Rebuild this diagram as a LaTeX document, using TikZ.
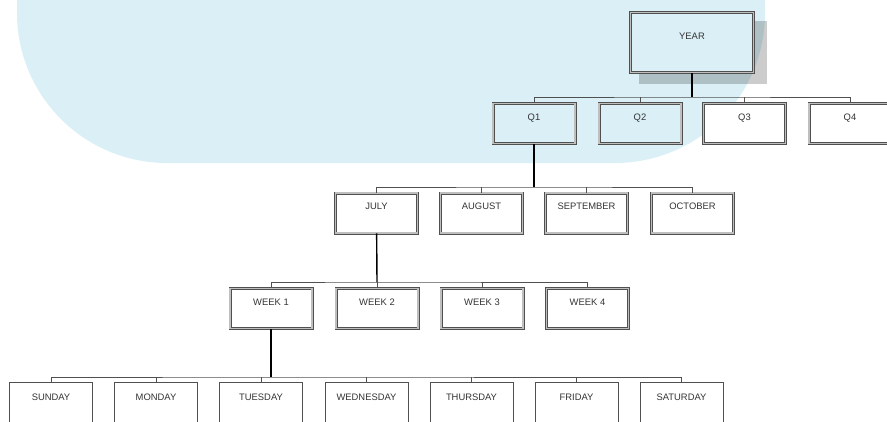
\documentclass[tikz,border=0pt]{standalone}
\usepackage{fontspec}
\setmainfont{Liberation Sans}
\definecolor{sky}{RGB}{218,240,246}
\definecolor{frame}{RGB}{80,80,80}
\definecolor{ink}{RGB}{51,51,51}
\begin{document}
\begin{tikzpicture}[x=1pt,y=-1pt,
  dbox/.style={rectangle, draw=frame, line width=0.7pt, double=black!25, double distance=1.6pt, inner sep=0pt, minimum width=82, text height=16.9pt, text depth=23.1pt, text=ink, font=\fontsize{9.4}{11}\selectfont},
  sbox/.style={rectangle, draw=frame, line width=0.9pt, inner sep=0pt, minimum width=83, text height=18.4pt, text depth=24pt, text=ink, font=\fontsize{9.4}{11}\selectfont},
  bus/.style={draw=frame, line width=0.7pt},
  drop/.style={draw=black, line width=1.4pt}]
\useasboundingbox (0,0) rectangle (887,421);
\clip (0,0) rectangle (887,421);
\fill[sky, rounded corners=150] (17,-200) rectangle (765,163);
\fill[black, opacity=0.2] (639,21) rectangle (767,84);
\node[dbox, fill=sky, minimum width=123, text height=26.9pt, text depth=33.1pt] (yr0) at (692,42.5){YEAR};
\node[dbox] (q0) at (534,123.5){Q1};
\node[dbox] (q1) at (640,123.5){Q2};
\node[dbox, fill=white] (q2) at (744.5,123.5){Q3};
\node[dbox, fill=white] (q3) at (850,123.5){Q4};
\node[dbox] (m0) at (376.5,213){JULY};
\node[dbox] (m1) at (481.5,213){AUGUST};
\node[dbox] (m2) at (586.5,213){SEPTEMBER};
\node[dbox] (m3) at (692.5,213){OCTOBER};
\node[dbox] (w0) at (271,308.5){WEEK 1};
\node[dbox] (w1) at (377,308.5){WEEK 2};
\node[dbox] (w2) at (482,308.5){WEEK 3};
\node[dbox] (w3) at (587.5,308.5){WEEK 4};
\node[sbox] (d0) at (51,403.5){SUNDAY};
\node[sbox] (d1) at (156,403.5){MONDAY};
\node[sbox] (d2) at (261,403.5){TUESDAY};
\node[sbox] (d3) at (366.5,403.5){WEDNESDAY};
\node[sbox] (d4) at (471.5,403.5){THURSDAY};
\node[sbox] (d5) at (576.5,403.5){FRIDAY};
\node[sbox] (d6) at (681.5,403.5){SATURDAY};
\coordinate (b0) at (692,97);
\coordinate (b1) at (534,187);
\coordinate (b2) at (377,282);
\coordinate (b3) at (271,377);
\draw[bus] (q0.north) |- (b0) -| (q3.north);
\draw[bus] (q1.north) -- (q1.north |- b0);
\draw[bus] (q2.north) -- (q2.north |- b0);
\draw[bus] (m0.north) |- (b1) -| (m3.north);
\draw[bus] (m1.north) -- (m1.north |- b1);
\draw[bus] (m2.north) -- (m2.north |- b1);
\draw[bus] (w0.north) |- (b2) -| (w3.north);
\draw[bus] (w1.north) -- (w1.north |- b2);
\draw[bus] (w2.north) -- (w2.north |- b2);
\draw[bus] (d0.north) |- (b3) -| (d6.north);
\draw[bus] (d1.north) -- (d1.north |- b3);
\draw[bus] (d2.north) -- (d2.north |- b3);
\draw[bus] (d3.north) -- (d3.north |- b3);
\draw[bus] (d4.north) -- (d4.north |- b3);
\draw[bus] (d5.north) -- (d5.north |- b3);
\draw[drop] (yr0) -- (b0);
\draw[drop] (q0) -- (b1);
\draw[drop] (m0) -- (b2);
\draw[drop] (w0) -- (b3);
\end{tikzpicture}
\end{document}
